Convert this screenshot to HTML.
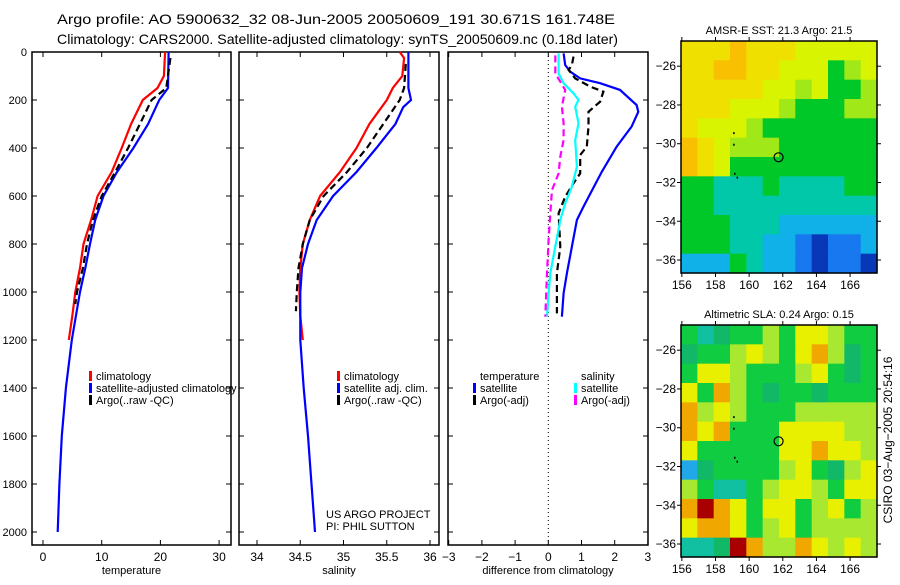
<!DOCTYPE html>
<html><head><meta charset="utf-8"><style>
body{margin:0;background:#fff;width:900px;height:580px;overflow:hidden}
svg text{font-family:"Liberation Sans",sans-serif;fill:#000}
</style></head><body>
<svg id="c" width="900" height="580" xmlns="http://www.w3.org/2000/svg">
<text x="57" y="24" font-size="14" textLength="558" lengthAdjust="spacingAndGlyphs">Argo profile: AO 5900632_32 08-Jun-2005 20050609_191 30.671S 161.748E</text>
<text x="57" y="44" font-size="14" textLength="561" lengthAdjust="spacingAndGlyphs">Climatology: CARS2000. Satellite-adjusted climatology: synTS_20050609.nc (0.18d later)</text>
</svg>
<script>
// ---- data ----
const tDepthClim=[0,100,150,200,300,400,500,600,700,800,900,1000,1100,1200];
const tClim=[20.8,20.6,19.5,17.0,15.0,13.4,11.7,9.3,8.2,6.9,6.3,5.5,5.0,4.4];
const tDepthSat=[0,150,200,300,400,500,600,700,800,900,1000,1200,1400,1600,1800,2000];
const tSat=[21.4,21.3,19.8,17.9,15.4,12.6,10.3,8.9,8.0,7.2,6.3,4.9,3.9,3.2,2.8,2.5];
const tDepthArgo=[25,150,200,300,400,500,600,700,800,900,1000,1050];
const tArgo=[21.7,21.0,18.5,16.5,14.5,12.3,10.0,8.5,7.5,6.8,5.8,5.5];
const sDepthClim=[0,25,100,150,200,300,400,500,600,700,800,900,1000,1100,1200];
const sClim=[35.65,35.70,35.68,35.57,35.50,35.30,35.15,34.96,34.73,34.61,34.53,34.50,34.49,34.50,34.53];
const sDepthSat=[0,150,200,230,300,400,500,600,700,800,900,1000,1200,1400,1600,1800,2000];
const sSat=[35.75,35.75,35.78,35.69,35.60,35.38,35.15,34.88,34.69,34.59,34.52,34.50,34.50,34.54,34.59,34.63,34.67];
const sDepthArgo=[50,150,200,300,400,500,600,700,800,900,1000,1080];
const sArgo=[35.72,35.70,35.65,35.46,35.27,35.04,34.77,34.61,34.53,34.48,34.46,34.45];
const dDepthTSat=[6,54,82,110,130,158,221,249,311,394,499,644,700,811,922,1005,1103];
const dTSat=[0.46,0.51,0.66,0.96,1.56,2.16,2.66,2.71,2.51,2.06,1.61,1.06,0.86,0.71,0.56,0.46,0.41];
const dDepthTArgo=[19,54,75,110,144,165,207,249,311,394,429,506,547,603,672,811,922,1089];
const dTArgo=[0.76,0.71,0.61,0.81,1.26,1.66,1.56,1.21,1.21,1.16,0.96,0.96,0.76,0.51,0.31,0.36,0.26,0.26];
const dDepthSSat=[6,89,130,172,200,228,297,367,478,561,631,700,811,922,1006,1103];
const dSSat=[0.31,0.31,0.46,0.76,0.91,0.81,0.91,0.81,0.86,0.71,0.51,0.36,0.21,0.06,0.01,-0.04];
const dDepthSArgo=[14,89,158,228,297,367,436,506,575,672,783,922,1103];
const dSArgo=[0.21,0.21,0.51,0.41,0.46,0.46,0.36,0.31,0.11,0.06,0.01,-0.04,-0.09];
const depthTicks=[0,200,400,600,800,1000,1200,1400,1600,1800,2000];
const tTicks=[0,10,20,30];
const sTicks=[34,34.5,35,35.5,36];
const dTicks=[-3,-2,-1,0,1,2,3];
const lonTicks=[156,158,160,162,164,166];
const latTicks=[-26,-28,-30,-32,-34,-36];
const sstGrid=["888988877777","889988777567","888887767556","888777655566","877765555555","987666555555","987555555555","554445444455","554444444444","555444333333","555443321223","333543321221"];
const slaGrid=["534556577655","455676578645","577655567545","758654554555","867655566666","878555777766","755555778776","245555675467","653356776577","898757756756","788756756666","334986687676"];
const argoLon=161.75, argoLat=-30.7;

const svg=document.getElementById('c');
const NS='http://www.w3.org/2000/svg';
function mk(tag,attrs,parent){const e=document.createElementNS(NS,tag);for(const k in attrs)e.setAttribute(k,attrs[k]);(parent||svg).appendChild(e);return e;}
function txt(s,x,y,size,anchor,parent){const e=mk('text',{x:x,y:y,'font-size':size,'text-anchor':anchor||'start'},parent);e.textContent=s;return e;}

const yD=d=>52+d*0.24;
const xT=v=>43+v*5.87;
const xS=v=>257+(v-34)*86.5;
const xDf=v=>548.3+v*33.2;

function panel(name,x0,x1,xf,ticks,labels,xlabel){
  const g=mk('g',{});
  
  
  const r=mk('rect',{x:x0,y:52,width:x1-x0,height:493,fill:'none',stroke:'#000','stroke-width':1.5},g);
  
  
  ticks.forEach((t,i)=>{const x=xf(t);
    mk('line',{x1:x,y1:52,x2:x,y2:57,stroke:'#000'},g);
    mk('line',{x1:x,y1:545,x2:x,y2:540,stroke:'#000'},g);
    const l=txt(labels[i],x,561,12,'middle',g);
    
    
  });
  depthTicks.forEach(d=>{const y=yD(d);
    mk('line',{x1:x0,y1:y,x2:x0+5,y2:y,stroke:'#000'},g);
    mk('line',{x1:x1,y1:y,x2:x1-5,y2:y,stroke:'#000'},g);});
  const xl=txt(xlabel,(x0+x1)/2,574,11,'middle',g);
  
  
  return g;
}
function line(g,name,xs,ds,xf,color,dash,w){
  const p=mk('polyline',{points:xs.map((v,i)=>xf(v).toFixed(1)+','+yD(ds[i]).toFixed(1)).join(' '),fill:'none',stroke:color,'stroke-width':w||2.2,'stroke-dasharray':dash||'none'},g);
  
  
}
function legend(g,items,x,y){
  items.forEach((it,i)=>{
    if(it[1]){const b=mk('rect',{x:x,y:y+i*12-9,width:3,height:10,fill:it[1]},g);
      
      }
    const t=txt(it[0],x+7,y+i*12,11,'start',g);
    
    
  });
}
depthTicks.forEach(d=>{const t=txt(String(d),27,yD(d)+4,11,'end');
  
  });

const p1=panel('temperature-panel',32,231,xT,tTicks,tTicks.map(String),'temperature');
line(p1,'temp-climatology-line',tClim,tDepthClim,xT,'#f00');
line(p1,'temp-satellite-line',tSat,tDepthSat,xT,'#00f');
line(p1,'temp-argo-line',tArgo,tDepthArgo,xT,'#000','7,4');
legend(p1,[['climatology','#f00'],['satellite-adjusted climatology','#00f'],['Argo(..raw -QC)','#000']],89,380);

const p2=panel('salinity-panel',239,439,xS,sTicks,sTicks.map(String),'salinity');
line(p2,'sal-climatology-line',sClim,sDepthClim,xS,'#f00');
line(p2,'sal-satellite-line',sSat,sDepthSat,xS,'#00f');
line(p2,'sal-argo-line',sArgo,sDepthArgo,xS,'#000','7,4');
legend(p2,[['climatology','#f00'],['satellite adj. clim.','#00f'],['Argo(..raw -QC)','#000']],337,380);
const c1=txt('US ARGO PROJECT',326,518,11,'start',p2);


const c2=txt('PI: PHIL SUTTON',326,530,11,'start',p2);



const p3=panel('difference-panel',448,648,xDf,dTicks,['\u22123','\u22122','\u22121','0','1','2','3'],'difference from climatology');
const zl=mk('line',{x1:xDf(0),y1:52,x2:xDf(0),y2:545,stroke:'#000','stroke-dasharray':'1,3'},p3);


line(p3,'diff-temp-satellite-line',dTSat,dDepthTSat,xDf,'#00f');
line(p3,'diff-temp-argo-line',dTArgo,dDepthTArgo,xDf,'#000','7,4');
line(p3,'diff-sal-satellite-line',dSSat,dDepthSSat,xDf,'#0ff');
line(p3,'diff-sal-argo-line',dSArgo,dDepthSArgo,xDf,'#f0f','7,4');
legend(p3,[['temperature',null],['satellite','#00f'],['Argo(-adj)','#000']],473,380);
legend(p3,[['salinity',null],['satellite','#0ff'],['Argo(-adj)','#f0f']],574,380);

const sstPal={1:'#0838b8',2:'#1878f0',3:'#10b0e8',4:'#00c8a8',5:'#00c828',6:'#a0e818',7:'#d8f400',8:'#f0e000',9:'#f8c000'};
const slaPal={2:'#20a8e8',3:'#10c0a0',4:'#10b868',5:'#10cc40',6:'#a8e830',7:'#e8f000',8:'#f0a800',9:'#a80000'};
function map(name,top,bottom,grid,pal,title){
  const g=mk('g',{});
  
  
  const L=681,R=877,lon0=155.95,lon1=167.6,lat0=-24.7,lat1=-36.67;
  const mx=v=>L+(v-lon0)/(lon1-lon0)*(R-L);
  const my=v=>top+(v-lat0)/(lat1-lat0)*(bottom-top);
  const rows=grid.length, cols=grid[0].length;
  const cw=(R-L)/cols, ch=(bottom-top)/rows;
  grid.forEach((row,r)=>{for(let c=0;c<cols;c++){
    const cell=mk('rect',{x:L+c*cw,y:top+r*ch,width:cw+0.6,height:ch+0.6,fill:pal[row[c]]},g);
    
    
  }});
  mk('rect',{x:L,y:top,width:R-L,height:bottom-top,fill:'none',stroke:'#000','stroke-width':1.5},g);
  lonTicks.forEach(v=>{const x=mx(v);
    mk('line',{x1:x,y1:top,x2:x,y2:top-4,stroke:'#000'},g);
    mk('line',{x1:x,y1:bottom,x2:x,y2:bottom+4,stroke:'#000'},g);
    const t=txt(String(v),x,bottom+16,12,'middle',g);
    
    });
  latTicks.forEach(v=>{const y=my(v);
    mk('line',{x1:L,y1:y,x2:L-4,y2:y,stroke:'#000'},g);
    mk('line',{x1:R,y1:y,x2:R+4,y2:y,stroke:'#000'},g);
    const t=txt(String(v).replace('-','\u2212'),L-5,y+4,12,'end',g);
    
    });
  [[159.05,-29.4],[159.05,-30],[159.1,-31.5],[159.25,-31.7]].forEach(p=>mk('rect',{x:mx(p[0]),y:my(p[1]),width:1.5,height:2,fill:'#000'},g));
  const m=mk('circle',{cx:mx(argoLon),cy:my(argoLat),r:4.5,fill:'none',stroke:'#000','stroke-width':1.2},g);
  
  
  const t=txt(title,779,top-7,11,'middle',g);
  
  
}
map('sst-map',41,273,sstGrid,sstPal,'AMSR-E SST: 21.3 Argo: 21.5');
map('sla-map',325,557,slaGrid,slaPal,'Altimetric SLA: 0.24 Argo: 0.15');
const cs=txt('CSIRO 03\u2212Aug\u22122005 20:54:16',0,0,12,'middle');
cs.setAttribute('transform','translate(892,440) rotate(-90)');


</script>
</body></html>
